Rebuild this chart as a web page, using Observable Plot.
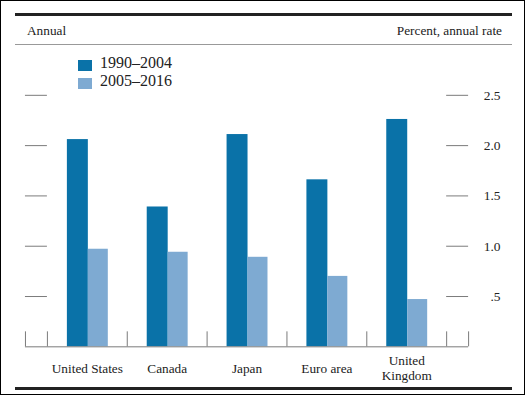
<!DOCTYPE html>
<html>
<head>
<meta charset="utf-8">
<script src="https://cdn.jsdelivr.net/npm/d3@7"></script>
<script src="https://cdn.jsdelivr.net/npm/@observablehq/plot@0.6"></script>
<style>
  html, body { margin: 0; padding: 0; background: #fff; }
  #wrap { position: relative; width: 523px; height: 393px; border: 1px solid #000; overflow: hidden;
          font-family: "Liberation Serif", "Times New Roman", serif; color: #222; }
  .abs { position: absolute; }
  #chart { position: absolute; left: -1px; top: -1px; }
</style>
</head>
<body>
<div id="wrap">
  <div id="chart"></div>
  <div class="abs" style="left:14px; top:12px; width:497px; height:3px; background:#222"></div>
  <div class="abs" style="left:26px; top:22px; font-size:13.3px">Annual</div>
  <div class="abs" style="right:22px; top:22px; font-size:13.3px">Percent, annual rate</div>
  <div class="abs" style="left:14px; top:43px; width:497px; height:1px; background:#999"></div>
  <div id="legend"></div>
  <div class="abs" style="left:14px; top:386px; width:497px; height:3px; background:#222"></div>
</div>
<script>
const countries = ["United States", "Canada", "Japan", "Euro area", "United Kingdom"];
const countryLabels = ["United States", "Canada", "Japan", "Euro area", "United\nKingdom"];
const series = ["1990–2004", "2005–2016"];
const seriesColors = ["#0a72a8", "#7eaad2"];
const values1990 = [2.06, 1.39, 2.11, 1.66, 2.26];
const values2005 = [0.97, 0.94, 0.89, 0.70, 0.47];
const yTicks = [0.5, 1.0, 1.5, 2.0, 2.5];
const yTickLabels = [".5", "1.0", "1.5", "2.0", "2.5"];

const rows = [];
countries.forEach((c, i) => {
  rows.push({country: c, series: series[0], value: values1990[i]});
  rows.push({country: c, series: series[1], value: values2005[i]});
});

const gray = "#7a7a7a";
const font = "Liberation Serif, Times New Roman, serif";

const plot = Plot.plot({
  width: 525,
  height: 395,
  marginLeft: 47,
  marginRight: 78,
  marginTop: 95,
  marginBottom: 48,
  style: {background: "transparent", fontFamily: font, fontSize: "13.3px", color: "#222"},
  x: {type: "band", domain: countries, padding: 0, axis: null},
  y: {domain: [0, 2.5], axis: null},
  color: {domain: series, range: seriesColors},
  marks: [
    Plot.barY(rows.filter(d => d.series === series[0]), {x: "country", y: "value", fill: seriesColors[0], insetLeft: 20, insetRight: 39}),
    Plot.barY(rows.filter(d => d.series === series[1]), {x: "country", y: "value", fill: seriesColors[1], insetLeft: 41, insetRight: 19}),
    // left ticks
    Plot.ruleY(yTicks, {y: d => d, stroke: gray, insetLeft: -22, insetRight: 400}),
    // right ticks
    Plot.ruleY(yTicks, {y: d => d, stroke: gray, insetLeft: 400, insetRight: -22}),
    Plot.text(yTicks, {y: d => d, text: (d, i) => yTickLabels[i], frameAnchor: "right", dx: 54, textAnchor: "end", fill: "#222", fontSize: 13.5}),
    // baseline
    Plot.ruleY([0], {stroke: gray, insetLeft: -22, insetRight: -22}),
    // band boundary ticks
    Plot.ruleX(countries, {x: d => d, dx: -40, stroke: gray, insetTop: 237}),
    Plot.ruleX(countries.slice(-1), {x: d => d, dx: 40, stroke: gray, insetTop: 237}),
    Plot.ruleX(countries.slice(0, 1), {x: d => d, dx: -62, stroke: gray, insetTop: 237}),
    Plot.ruleX(countries.slice(-1), {x: d => d, dx: 62, stroke: gray, insetTop: 237}),
    // category labels
    Plot.text(countries, {x: d => d, text: (d, i) => countryLabels[i], frameAnchor: "bottom", dy: 21, lineAnchor: "middle", lineHeight: 1.12, fill: "#222", fontSize: 13.3})
  ]
});
document.getElementById("chart").appendChild(plot);

const legend = document.getElementById("legend");
series.forEach((s, i) => {
  const sw = document.createElement("div");
  sw.className = "abs";
  sw.style.cssText = `left:${77}px; top:${59 + i * 18}px; width:14px; height:11px; background:${seriesColors[i]}`;
  legend.appendChild(sw);
  const t = document.createElement("div");
  t.className = "abs";
  t.style.cssText = `left:${99}px; top:${53 + i * 18}px; font-size:16px; line-height:18px`;
  t.textContent = s;
  legend.appendChild(t);
});
</script>
</body>
</html>
